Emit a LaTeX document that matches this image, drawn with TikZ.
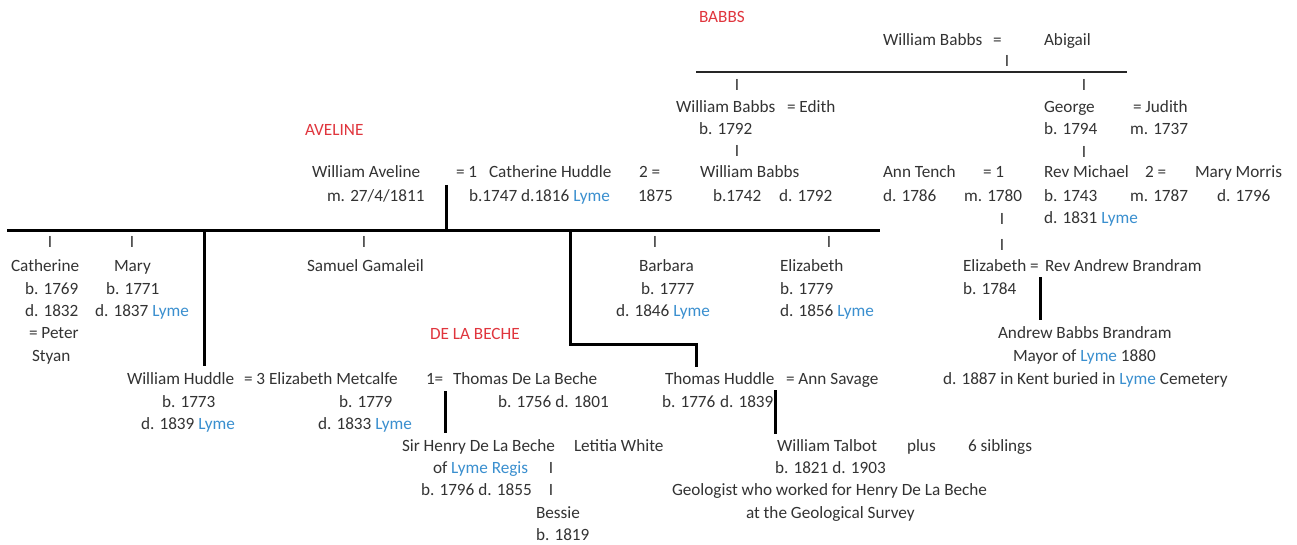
\documentclass[tikz,border=0pt]{standalone}
\usepackage{fontspec}
\setmainfont{Carlito}
\definecolor{ink}{HTML}{333333}
\definecolor{fam}{HTML}{E0353D}
\definecolor{lyme}{HTML}{3A8FCF}
\newcommand\Ly{\textcolor{lyme}{Lyme}}
\newcommand\tn[4]{\node[txt] (#1) at (#2,#3+5.6) {#4};}
\newcommand\tk[3]{\node[tick] (#1) at (#2,#3+5.6) {I};}
\begin{document}
\begin{tikzpicture}[x=1pt,y=-1pt,
  txt/.style={anchor=base west,inner sep=0pt,outer sep=0pt,text=ink,font=\fontsize{17.2}{20}\selectfont},
  tick/.style={anchor=base,inner sep=0pt,outer sep=0pt,text=ink,font=\fontsize{17.2}{20}\selectfont},
  famname/.style={txt,text=fam},
  link/.style={draw=black,line width=3pt},
  thin link/.style={draw=black!85,line width=1.8pt}]
\fill[white] (0,0) rectangle (1297,545);
\useasboundingbox (0,0) rectangle (1297,545);
% family headings
\node[famname] (hBabbs) at (699,22.6) {BABBS};
\node[famname] (hAveline) at (305,135.6) {AVELINE};
\node[famname] (hBeche) at (430,339.6) {DE LA BECHE};
% Babbs top
\tn{wbA}{883}{40}{William Babbs}
\tn{eqTop}{993}{40}{=}
\tn{abigail}{1044}{40}{Abigail}
\tk{tkA}{1007}{61}
\coordinate (bbL) at (696,72);
\coordinate (bbR) at (1127,72);
\tk{tkB}{737}{85}
\tk{tkC}{1084}{85}
\tn{wbB}{676}{107}{William Babbs}
\tn{edith}{787}{107}{= Edith}
\tn{wbBb}{699}{129}{b. 1792}
\tk{tkD}{737}{151}
\tn{george}{1044}{107}{George}
\tn{judith}{1133}{107}{= Judith}
\tn{georgeb}{1044}{129}{b. 1794}
\tn{judithm}{1130}{129}{m. 1737}
\tk{tkE}{1084}{152}
% row 172
\tn{wav}{312}{172}{William Aveline}
\tn{eqA}{456}{172}{= 1}
\tn{catH}{489}{172}{Catherine Huddle}
\tn{twoA}{639}{172}{2 =}
\tn{wbC}{700}{172}{William Babbs}
\tn{ann}{883}{172}{Ann Tench}
\tn{eqB}{983}{172}{= 1}
\tn{mich}{1044}{172}{Rev Michael}
\tn{twoB}{1145}{172}{2 =}
\tn{maryM}{1195}{172}{Mary Morris}
% row 196
\tn{wavm}{327}{196}{m. 27/4/1811}
\tn{catHd}{469}{196}{b.1747 d.1816 \Ly}
\tn{y1875}{638}{196}{1875}
\tn{wbCb}{713}{196}{b.1742}
\tn{wbCd}{779}{196}{d. 1792}
\tn{annd}{883}{196}{d. 1786}
\tn{annm}{964}{196}{m. 1780}
\tn{michb}{1044}{196}{b. 1743}
\tn{michm}{1130}{196}{m. 1787}
\tn{maryd}{1217}{196}{d. 1796}
\tn{michd}{1044}{218}{d. 1831 \Ly}
\tk{tkF}{1002}{219}
\tk{tkG}{1002}{245}
% Aveline line
\coordinate (avJ) at (446,185);
\coordinate (avL) at (7,231);
\coordinate (avR) at (880,231);
\tk{tk1}{50}{242}
\tk{tk2}{132}{242}
\tk{tk3}{364}{242}
\tk{tk4}{655}{242}
\tk{tk5}{829}{242}
% row 266
\tn{cath}{11}{266}{Catherine}
\tn{mary}{114}{266}{Mary}
\tn{samuel}{307}{266}{Samuel Gamaleil}
\tn{barbara}{639}{266}{Barbara}
\tn{eliz}{780}{266}{Elizabeth}
\tn{elizB}{963}{266}{Elizabeth =}
\tn{brandram}{1045}{266}{Rev Andrew Brandram}
\tn{cathb}{25}{289}{b. 1769}
\tn{maryb}{106}{289}{b. 1771}
\tn{barbb}{641}{289}{b. 1777}
\tn{elizb}{780}{289}{b. 1779}
\tn{elizBb}{963}{289}{b. 1784}
\tn{cathd}{25}{311}{d. 1832}
\tn{maryd2}{95}{311}{d. 1837 \Ly}
\tn{barbd}{616}{311}{d. 1846 \Ly}
\tn{elizd}{780}{311}{d. 1856 \Ly}
\tn{peter}{29}{333}{= Peter}
\tn{styan}{32}{356}{Styan}
\tn{abb}{998}{333}{Andrew Babbs Brandram}
\tn{mayor}{1013}{356}{Mayor of \Ly\ 1880}
\tn{abbd}{943}{379}{d. 1887 in Kent buried in \Ly\ Cemetery}
% row 379
\tn{wh}{127}{379}{William Huddle}
\tn{em}{244}{379}{= 3 Elizabeth Metcalfe}
\tn{oneeq}{426}{379}{1=}
\tn{tdlb}{453}{379}{Thomas De La Beche}
\tn{th}{665}{379}{Thomas Huddle}
\tn{savage}{786}{379}{= Ann Savage}
\tn{whb}{162}{402}{b. 1773}
\tn{emb}{339}{402}{b. 1779}
\tn{tdlbd}{498}{402}{b. 1756 d. 1801}
\tn{thb}{662}{402}{b. 1776}
\tn{thd}{720}{402}{d. 1839}
\tn{whd}{141}{424}{d. 1839 \Ly}
\tn{emd}{318}{424}{d. 1833 \Ly}
% lower rows
\tn{henry}{402}{446}{Sir Henry De La Beche}
\tn{letitia}{574}{446}{Letitia White}
\tn{talbot}{777}{446}{William Talbot}
\tn{plus}{907}{446}{plus}
\tn{sibs}{968}{446}{6 siblings}
\tn{henryof}{433}{468}{of \textcolor{lyme}{Lyme Regis}}
\tk{tkH}{551}{468}
\tn{talbotd}{775}{468}{b. 1821 d. 1903}
\tn{henryd}{421}{490}{b. 1796 d. 1855}
\tk{tkI}{551}{490}
\tn{geo}{672}{490}{Geologist who worked for Henry De La Beche}
\tn{bessie}{536}{513}{Bessie}
\tn{survey}{746}{513}{at the Geological Survey}
\tn{bessieb}{536}{535}{b. 1819}
% connectors
\draw[thin link] (bbL) -- (bbR);
\draw[link] (avJ) -- (avJ |- avL);
\draw[link] (avL) -- (avR);
\coordinate (whJ) at (204,231);
\coordinate (whE) at (204,366);
\draw[link] (whJ) -- (whE);
\coordinate (thJ) at (570,231);
\coordinate (thK) at (570,344);
\coordinate (thE) at (696,367);
\draw[link] (thJ) -- (thK) -| (thE);
\coordinate (dbJ) at (445,391);
\coordinate (dbE) at (445,433);
\draw[link] (dbJ) -- (dbE);
\coordinate (tlJ) at (775,390);
\coordinate (tlE) at (775,434);
\draw[link] (tlJ) -- (tlE);
\coordinate (brJ) at (1040,277);
\coordinate (brE) at (1040,320);
\draw[link] (brJ) -- (brE);
\end{tikzpicture}
\end{document}
